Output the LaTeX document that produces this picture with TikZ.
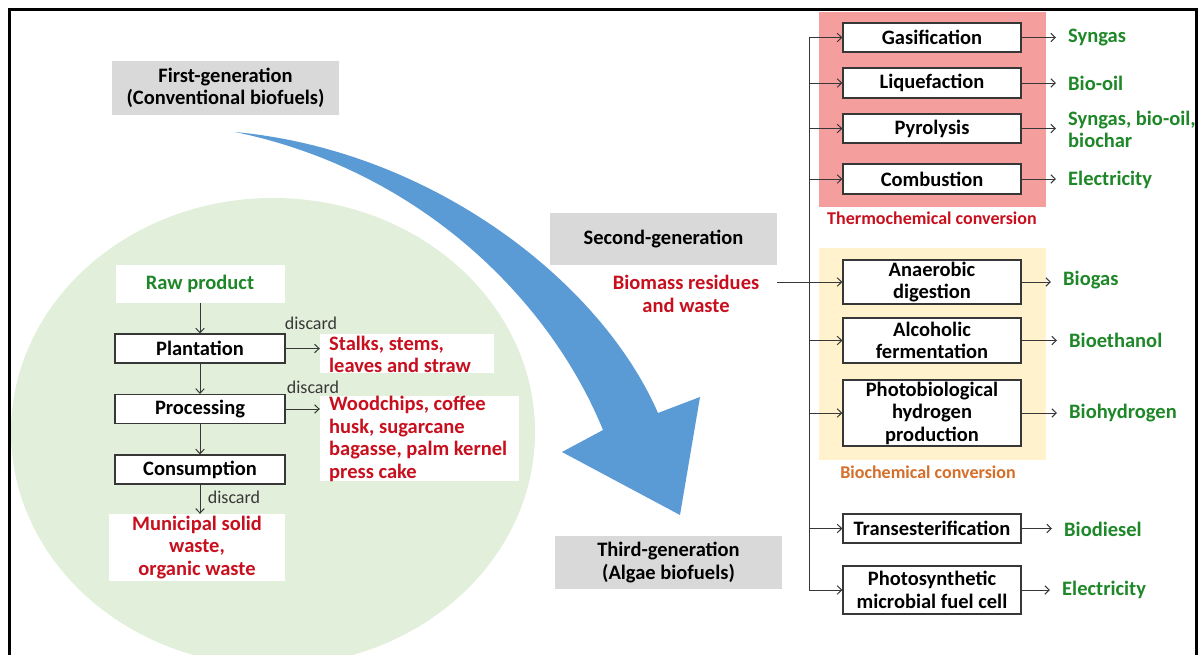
\documentclass[tikz,border=0pt]{standalone}
\usepackage{fontspec}
\setmainfont{Carlito}
\usetikzlibrary{arrows.meta}
\definecolor{tgreen}{RGB}{30,135,40}
\definecolor{tred}{RGB}{200,15,30}
\definecolor{torange}{RGB}{212,110,40}
\definecolor{gbox}{RGB}{217,217,217}
\definecolor{circ}{RGB}{226,239,218}
\definecolor{pinkbg}{RGB}{245,158,158}
\definecolor{yelbg}{RGB}{255,242,204}
\definecolor{arrblue}{RGB}{91,155,213}
\definecolor{lin}{RGB}{55,55,55}
\begin{document}
\begin{tikzpicture}[x=1pt,y=-1pt,
  font=\fontsize{20.5}{22.5}\selectfont\bfseries,
  arr/.style={-{Straight Barb[length=4.5pt,width=8.5pt]}, draw=lin, line width=1pt},
  plainline/.style={draw=lin, line width=1pt},
  plainbox/.style={fill=white, inner sep=0pt, align=center},
  lbox/.style={draw=lin, line width=1.2pt, fill=white, minimum width=170pt, minimum height=29pt, inner sep=0pt},
  rbox/.style={draw=lin, line width=1.2pt, fill=white, minimum width=178pt, inner sep=0pt, align=center},
  redbg/.style={fill=white, inner sep=0pt},
  redlist/.style={anchor=west, text=tred, align=left, inner sep=0pt},
  gen/.style={fill=gbox, minimum width=227pt, align=center, inner sep=0pt},
  disc/.style={font=\fontsize{18}{20}\selectfont, text=lin, inner sep=0pt},
  sublab/.style={font=\fontsize{18}{20}\selectfont\bfseries, inner sep=0pt},
  outlab/.style={anchor=west, text=tgreen, align=left, inner xsep=12pt, inner ysep=0pt}
]
\useasboundingbox (0,0) rectangle (1199,654);
\begin{scope}
\clip (0,0) rectangle (1199,654);
\fill[white] (0,0) rectangle (1199,654);
% green ellipse
\fill[circ] (273,432) ellipse [x radius=262pt, y radius=234pt];
% blue curved arrow
\fill[arrblue] (235,132) .. controls (430,150) and (600,280) .. (658,413)
  -- (700,397) -- (680,515) -- (562,452) -- (603,430)
  .. controls (550,300) and (420,170) .. (235,132) -- cycle;
% conversion backgrounds
\fill[pinkbg] (819,12) rectangle (1046,207);
\fill[yelbg] (819,248) rectangle (1046,460);
\end{scope}

% generation labels
\node[gen, minimum height=54pt] (g1) at (225.5,88) {First-generation\\(Conventional biofuels)};
\node[gen, minimum height=52pt] (g2) at (663.5,239) {Second-generation};
\node[gen, minimum height=53pt] (g3) at (668.5,562.5) {Third-generation\\(Algae biofuels)};

% left flow
\node[plainbox, text=tgreen, minimum width=169pt, minimum height=38pt] (raw) at (200,284) {Raw product};
\node[lbox] (plant) at (200,348.5) {Plantation};
\node[lbox] (proc) at (200,409) {Processing};
\node[lbox] (cons) at (200,469.5) {Consumption};
\node[plainbox, text=tred, minimum width=176pt, minimum height=67pt] (muni) at (197,547.5) {Municipal solid\\waste,\\organic waste};
\node[redbg, minimum width=174pt, minimum height=39pt] (stalks) at (407,353.5) {};
\node[redlist] (stalkstxt) at (329,354.5) {Stalks, stems,\\leaves and straw};
\node[redbg, minimum width=199pt, minimum height=85pt] (wood) at (419.5,438.5) {};
\node[redlist] (woodtxt) at (329,439) {Woodchips, coffee\\husk, sugarcane\\bagasse, palm kernel\\press cake};
\node[disc] (d1) at (311,323) {discard};
\node[disc] (d2) at (313,387) {discard};
\node[disc] (d3) at (234,497) {discard};

\draw[arr] (raw.south) -- (plant.north);
\draw[arr] (plant.south) -- (proc.north);
\draw[arr] (proc.south) -- (cons.north);
\draw[arr] (cons.south) -- (cons.south |- muni.north);
\draw[arr] (plant.east) -- (stalks.west |- plant.east);
\draw[arr] (proc.east) -- (wood.west |- proc.east);

% second generation source
\node[text=tred, align=center, inner sep=0pt] (bio) at (686,294) {Biomass residues\\and waste};

% conversion boxes
\node[rbox, minimum height=29pt] (gas) at (932,37.5) {Gasification};
\node[rbox, minimum height=30pt] (liq) at (932,83) {Liquefaction};
\node[rbox, minimum height=29pt] (pyr) at (932,128.5) {Pyrolysis};
\node[rbox, minimum height=30pt] (comb) at (932,179) {Combustion};
\node[rbox, minimum height=44pt] (anaer) at (932,282) {Anaerobic\\digestion};
\node[rbox, minimum height=45pt] (alc) at (932,340.5) {Alcoholic\\fermentation};
\node[rbox, minimum height=66pt] (photo) at (932,413) {Photobiological\\hydrogen\\production};
\node[rbox, minimum height=29pt] (trans) at (932,528.5) {Transesterification};
\node[rbox, minimum height=48pt] (pmfc) at (932,590) {Photosynthetic\\microbial fuel cell};

\node[sublab, text=tred] (thlab) at (932,218) {Thermochemical conversion};
\node[sublab, text=torange] (bclab) at (928,472) {Biochemical conversion};

% outputs
\node[outlab] (o1) at (1056,38) {Syngas};
\node[outlab] (o2) at (1056,83) {Bio-oil};
\node[outlab] (o3) at (1056,129.5) {Syngas, bio-oil,\\biochar};
\node[outlab] (o4) at (1056,180) {Electricity};
\node[outlab] (o5) at (1051,280) {Biogas};
\node[outlab] (o6) at (1057,340) {Bioethanol};
\node[outlab] (o7) at (1057,413) {Biohydrogen};
\node[outlab] (o8) at (1052,529) {Biodiesel};
\node[outlab] (o9) at (1050,590) {Electricity};

\draw[arr] (gas.east) -- (o1.west |- gas.east);
\draw[arr] (liq.east) -- (o2.west |- liq.east);
\draw[arr] (pyr.east) -- (o3.west |- pyr.east);
\draw[arr] (comb.east) -- (o4.west |- comb.east);
\draw[arr] (anaer.east) -- (o5.west |- anaer.east);
\draw[arr] (alc.east) -- (o6.west |- alc.east);
\draw[arr] (photo.east) -- (o7.west |- photo.east);
\draw[arr] (trans.east) -- (o8.west |- trans.east);
\draw[arr] (pmfc.east) -- (o9.west |- pmfc.east);

% bus line
\coordinate (bus) at (809,0);
\draw[plainline] (bus |- gas.west) -- (bus |- pmfc.west);
\foreach \n in {gas,liq,pyr,comb,alc,photo,trans,pmfc}
  \draw[arr] (bus |- \n.west) -- (\n.west);
\coordinate (bstart) at (777,282);
\draw[arr] (bstart) -- (anaer.west);

% frame
\begin{scope}
\clip (0,0) rectangle (1199,654);
\draw[line width=3pt, black] (9.5,9) rectangle (1196,690);
\end{scope}
\end{tikzpicture}
\end{document}
